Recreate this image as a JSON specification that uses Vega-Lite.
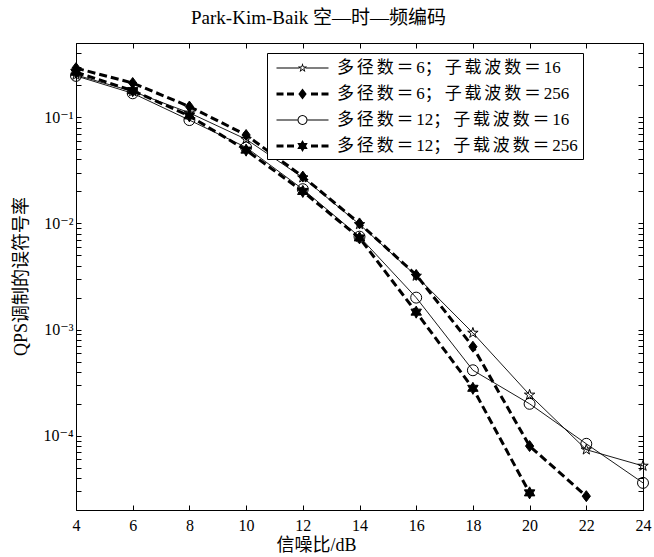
{
  "$schema": "https://vega.github.io/schema/vega-lite/v6.json",
  "width": 567,
  "height": 467,
  "autosize": "none",
  "padding": {"left": 76, "top": 43, "right": 11, "bottom": 47},
  "background": "white",
  "config": {
    "font": "Liberation Serif, Noto Sans CJK SC",
    "view": {"stroke": "black", "strokeWidth": 1},
    "axis": {
      "grid": false,
      "domain": false,
      "tickColor": "black",
      "tickWidth": 1,
      "labelColor": "black",
      "titleColor": "black",
      "labelFont": "Liberation Serif, DejaVu Serif",
      "titleFont": "Liberation Serif, Noto Sans CJK SC",
      "titleFontWeight": "normal",
      "labelOverlap": false,
      "labelFlush": false
    }
  },
  "title": {
    "text": "Park-Kim-Baik 空—时—频编码",
    "font": "Liberation Serif, Noto Sans CJK SC",
    "fontSize": 19,
    "fontWeight": "normal",
    "color": "black",
    "anchor": "middle",
    "dx": -41,
    "offset": 7
  },
  "data": {
    "values": [
      {"series": "多径数＝6；子载波数＝16", "snr": 4, "ser": 0.25},
      {"series": "多径数＝6；子载波数＝16", "snr": 6, "ser": 0.175},
      {"series": "多径数＝6；子载波数＝16", "snr": 8, "ser": 0.11},
      {"series": "多径数＝6；子载波数＝16", "snr": 10, "ser": 0.062},
      {"series": "多径数＝6；子载波数＝16", "snr": 12, "ser": 0.027},
      {"series": "多径数＝6；子载波数＝16", "snr": 14, "ser": 0.0098},
      {"series": "多径数＝6；子载波数＝16", "snr": 16, "ser": 0.0032},
      {"series": "多径数＝6；子载波数＝16", "snr": 18, "ser": 0.00093},
      {"series": "多径数＝6；子载波数＝16", "snr": 20, "ser": 0.000243},
      {"series": "多径数＝6；子载波数＝16", "snr": 22, "ser": 0.000074},
      {"series": "多径数＝6；子载波数＝16", "snr": 24, "ser": 0.000052},
      {"series": "多径数＝6；子载波数＝256", "snr": 4, "ser": 0.29},
      {"series": "多径数＝6；子载波数＝256", "snr": 6, "ser": 0.21},
      {"series": "多径数＝6；子载波数＝256", "snr": 8, "ser": 0.126},
      {"series": "多径数＝6；子载波数＝256", "snr": 10, "ser": 0.068},
      {"series": "多径数＝6；子载波数＝256", "snr": 12, "ser": 0.0276},
      {"series": "多径数＝6；子载波数＝256", "snr": 14, "ser": 0.01},
      {"series": "多径数＝6；子载波数＝256", "snr": 16, "ser": 0.00327},
      {"series": "多径数＝6；子载波数＝256", "snr": 18, "ser": 0.00069},
      {"series": "多径数＝6；子载波数＝256", "snr": 20, "ser": 0.00008},
      {"series": "多径数＝6；子载波数＝256", "snr": 22, "ser": 0.000027},
      {"series": "多径数＝12；子载波数＝16", "snr": 4, "ser": 0.245},
      {"series": "多径数＝12；子载波数＝16", "snr": 6, "ser": 0.168},
      {"series": "多径数＝12；子载波数＝16", "snr": 8, "ser": 0.094},
      {"series": "多径数＝12；子载波数＝16", "snr": 10, "ser": 0.052},
      {"series": "多径数＝12；子载波数＝16", "snr": 12, "ser": 0.021},
      {"series": "多径数＝12；子载波数＝16", "snr": 14, "ser": 0.0075},
      {"series": "多径数＝12；子载波数＝16", "snr": 16, "ser": 0.002},
      {"series": "多径数＝12；子载波数＝16", "snr": 18, "ser": 0.000414},
      {"series": "多径数＝12；子载波数＝16", "snr": 20, "ser": 0.0002},
      {"series": "多径数＝12；子载波数＝16", "snr": 22, "ser": 0.000084},
      {"series": "多径数＝12；子载波数＝16", "snr": 24, "ser": 0.000036},
      {"series": "多径数＝12；子载波数＝256", "snr": 4, "ser": 0.265},
      {"series": "多径数＝12；子载波数＝256", "snr": 6, "ser": 0.178},
      {"series": "多径数＝12；子载波数＝256", "snr": 8, "ser": 0.103},
      {"series": "多径数＝12；子载波数＝256", "snr": 10, "ser": 0.049},
      {"series": "多径数＝12；子载波数＝256", "snr": 12, "ser": 0.02},
      {"series": "多径数＝12；子载波数＝256", "snr": 14, "ser": 0.0073},
      {"series": "多径数＝12；子载波数＝256", "snr": 16, "ser": 0.00146},
      {"series": "多径数＝12；子载波数＝256", "snr": 18, "ser": 0.00028},
      {"series": "多径数＝12；子载波数＝256", "snr": 20, "ser": 0.000029}
    ]
  },
  "layer": [
    {
      "transform": [{"filter": {"field": "series", "oneOf": ["多径数＝6；子载波数＝16", "多径数＝12；子载波数＝16"]}}],
      "mark": {"type": "line", "color": "black", "strokeWidth": 0.9},
      "encoding": {
        "x": {
          "field": "snr", "type": "quantitative",
          "scale": {"domain": [4, 24], "nice": false, "zero": false},
          "axis": {
            "orient": "bottom",
            "values": [4, 6, 8, 10, 12, 14, 16, 18, 20, 22, 24],
            "format": "d",
            "tickSize": -5,
            "labelPadding": 12,
            "labelFontSize": 16,
            "title": "信噪比/dB",
            "titleFontSize": 18,
            "titleX": 240,
            "titleY": 35,
            "titleBaseline": "middle"
          }
        },
        "y": {
          "field": "ser", "type": "quantitative",
          "scale": {"type": "log", "domain": [0.00002, 0.5], "nice": false},
          "axis": {
            "orient": "left",
            "values": [0.00002, 0.00003, 0.00004, 0.00005, 0.00006, 0.00007, 0.00008, 0.00009, 0.0001, 0.0002, 0.0003, 0.0004, 0.0005, 0.0006, 0.0007, 0.0008, 0.0009, 0.001, 0.002, 0.003, 0.004, 0.005, 0.006, 0.007, 0.008, 0.009, 0.01, 0.02, 0.03, 0.04, 0.05, 0.06, 0.07, 0.08, 0.09, 0.1, 0.2, 0.3, 0.4, 0.5],
            "labelExpr": "datum.value == 0.1 ? '10⁻¹' : datum.value == 0.01 ? '10⁻²' : datum.value == 0.001 ? '10⁻³' : datum.value == 0.0001 ? '10⁻⁴' : ''",
            "tickSize": -5,
            "labelPadding": 8,
            "labelFontSize": 16,
            "labelBaseline": "middle",
            "encode": {"ticks": {"update": {"x2": {"signal": "abs(log(datum.value)/LN10 - round(log(datum.value)/LN10)) < 0.001 ? 5 : 3"}}}},
            "title": "QPS调制的误符号率",
            "titleFontSize": 18,
            "titleX": -55,
            "titleY": 233,
            "titleAngle": -90,
            "titleAlign": "center",
            "titleBaseline": "middle"
          }
        },
        "detail": {"field": "series", "type": "nominal"}
      }
    },
    {
      "transform": [{"filter": {"field": "series", "oneOf": ["多径数＝6；子载波数＝256", "多径数＝12；子载波数＝256"]}}],
      "mark": {"type": "line", "color": "black", "strokeWidth": 3, "strokeDash": [8, 4]},
      "encoding": {
        "x": {
          "field": "snr", "type": "quantitative",
          "axis": {
            "orient": "top",
            "values": [4, 6, 8, 10, 12, 14, 16, 18, 20, 22, 24],
            "labels": false,
            "tickSize": -5,
            "title": null
          }
        },
        "y": {
          "field": "ser", "type": "quantitative",
          "axis": {
            "orient": "right",
            "values": [0.00002, 0.00003, 0.00004, 0.00005, 0.00006, 0.00007, 0.00008, 0.00009, 0.0001, 0.0002, 0.0003, 0.0004, 0.0005, 0.0006, 0.0007, 0.0008, 0.0009, 0.001, 0.002, 0.003, 0.004, 0.005, 0.006, 0.007, 0.008, 0.009, 0.01, 0.02, 0.03, 0.04, 0.05, 0.06, 0.07, 0.08, 0.09, 0.1, 0.2, 0.3, 0.4, 0.5],
            "labels": false,
            "tickSize": -5,
            "encode": {"ticks": {"update": {"x2": {"signal": "abs(log(datum.value)/LN10 - round(log(datum.value)/LN10)) < 0.001 ? -5 : -3"}}}},
            "title": null
          }
        },
        "detail": {"field": "series", "type": "nominal"}
      }
    },
    {
      "mark": {"type": "point", "filled": true, "opacity": 1, "stroke": "black", "strokeWidth": 1, "size": 120},
      "encoding": {
        "x": {"field": "snr", "type": "quantitative", "axis": null},
        "y": {"field": "ser", "type": "quantitative", "axis": null},
        "fill": {
          "condition": {"test": "indexof(datum.series, '256') >= 0", "value": "black"},
          "value": "transparent"
        },
        "shape": {
          "field": "series", "type": "nominal",
          "scale": {
            "domain": ["多径数＝6；子载波数＝16", "多径数＝6；子载波数＝256", "多径数＝12；子载波数＝16", "多径数＝12；子载波数＝256"],
            "range": [
              "M0,-1L0.2245,-0.309L0.951,-0.309L0.363,0.118L0.588,0.809L0,0.382L-0.588,0.809L-0.363,0.118L-0.951,-0.309L-0.2245,-0.309Z",
              "M0,-1L0.75,0L0,1L-0.75,0Z",
              "circle",
              "M0,-1.1L0.318,-0.55L0.953,-0.55L0.635,0L0.953,0.55L0.318,0.55L0,1.1L-0.318,0.55L-0.953,0.55L-0.635,0L-0.953,-0.55L-0.318,-0.55Z"
            ]
          },
          "legend": null
        }
      }
    },
    {
      "mark": {"type": "point", "filled": true, "color": "black", "opacity": 0, "size": 400},
      "encoding": {
        "x": {"field": "snr", "type": "quantitative", "axis": null},
        "y": {"field": "ser", "type": "quantitative", "axis": null},
        "shape": {
          "field": "series", "type": "nominal",
          "scale": {
            "domain": ["多径数＝6；子载波数＝16", "多径数＝6；子载波数＝256", "多径数＝12；子载波数＝16", "多径数＝12；子载波数＝256"],
            "range": [
              "M-2.6,-0.05H-0.3V0.05H-2.6ZM0.3,-0.05H2.6V0.05H0.3ZM0,-0.5L0.112,-0.155L0.476,-0.155L0.182,0.059L0.294,0.405L0,0.191L-0.294,0.405L-0.182,0.059L-0.476,-0.155L-0.112,-0.155ZM0,-0.25L-0.056,-0.0775L-0.238,-0.0775L-0.091,0.0295L-0.147,0.2025L0,0.0955L0.147,0.2025L0.091,0.0295L0.238,-0.0775L0.056,-0.0775Z",
              "M-2.6,-0.15H-1.9V0.15H-2.6ZM-1.55,-0.15H-0.85V0.15H-1.55ZM0.85,-0.15H1.55V0.15H0.85ZM1.9,-0.15H2.6V0.15H1.9ZM0,-0.55L0.42,0L0,0.55L-0.42,0Z",
              "M-2.6,-0.05H-0.5V0.05H-2.6ZM0.5,-0.05H2.6V0.05H0.5ZM0.5,0L0.462,0.191L0.354,0.354L0.191,0.462L0,0.5L-0.191,0.462L-0.354,0.354L-0.462,0.191L-0.5,0L-0.462,-0.191L-0.354,-0.354L-0.191,-0.462L0,-0.5L0.191,-0.462L0.354,-0.354L0.462,-0.191ZM0.4,0L0.37,-0.153L0.283,-0.283L0.153,-0.37L0,-0.4L-0.153,-0.37L-0.283,-0.283L-0.37,-0.153L-0.4,0L-0.37,0.153L-0.283,0.283L-0.153,0.37L0,0.4L0.153,0.37L0.283,0.283L0.37,0.153Z",
              "M-2.6,-0.15H-1.9V0.15H-2.6ZM-1.55,-0.15H-0.85V0.15H-1.55ZM0.85,-0.15H1.55V0.15H0.85ZM1.9,-0.15H2.6V0.15H1.9ZM0,-0.6L0.173,-0.3L0.52,-0.3L0.346,0L0.52,0.3L0.173,0.3L0,0.6L-0.173,0.3L-0.52,0.3L-0.346,0L-0.52,-0.3L-0.173,-0.3Z"
            ]
          },
          "legend": {
            "orient": "none",
            "legendX": 191,
            "legendY": 10,
            "title": null,
            "strokeColor": "black",
            "fillColor": "white",
            "padding": 5,
            "rowPadding": 8,
            "symbolSize": 400,
            "symbolStrokeWidth": 0,
            "symbolFillColor": "black",
            "symbolOpacity": 1,
            "symbolOffset": 20.5,
            "labelOffset": 24.5,
            "labelFont": "Liberation Serif, Noto Sans CJK SC",
            "labelFontSize": 17,
            "labelColor": "black",
            "labelLimit": 400,
            "labelExpr": "replace(datum.label, regexp('([^0-9])(?=.)', 'g'), '$1\u2006')"
          }
        }
      }
    }
  ],
  "resolve": {
    "scale": {"shape": "independent"},
    "axis": {"x": "independent", "y": "independent"}
  }
}
